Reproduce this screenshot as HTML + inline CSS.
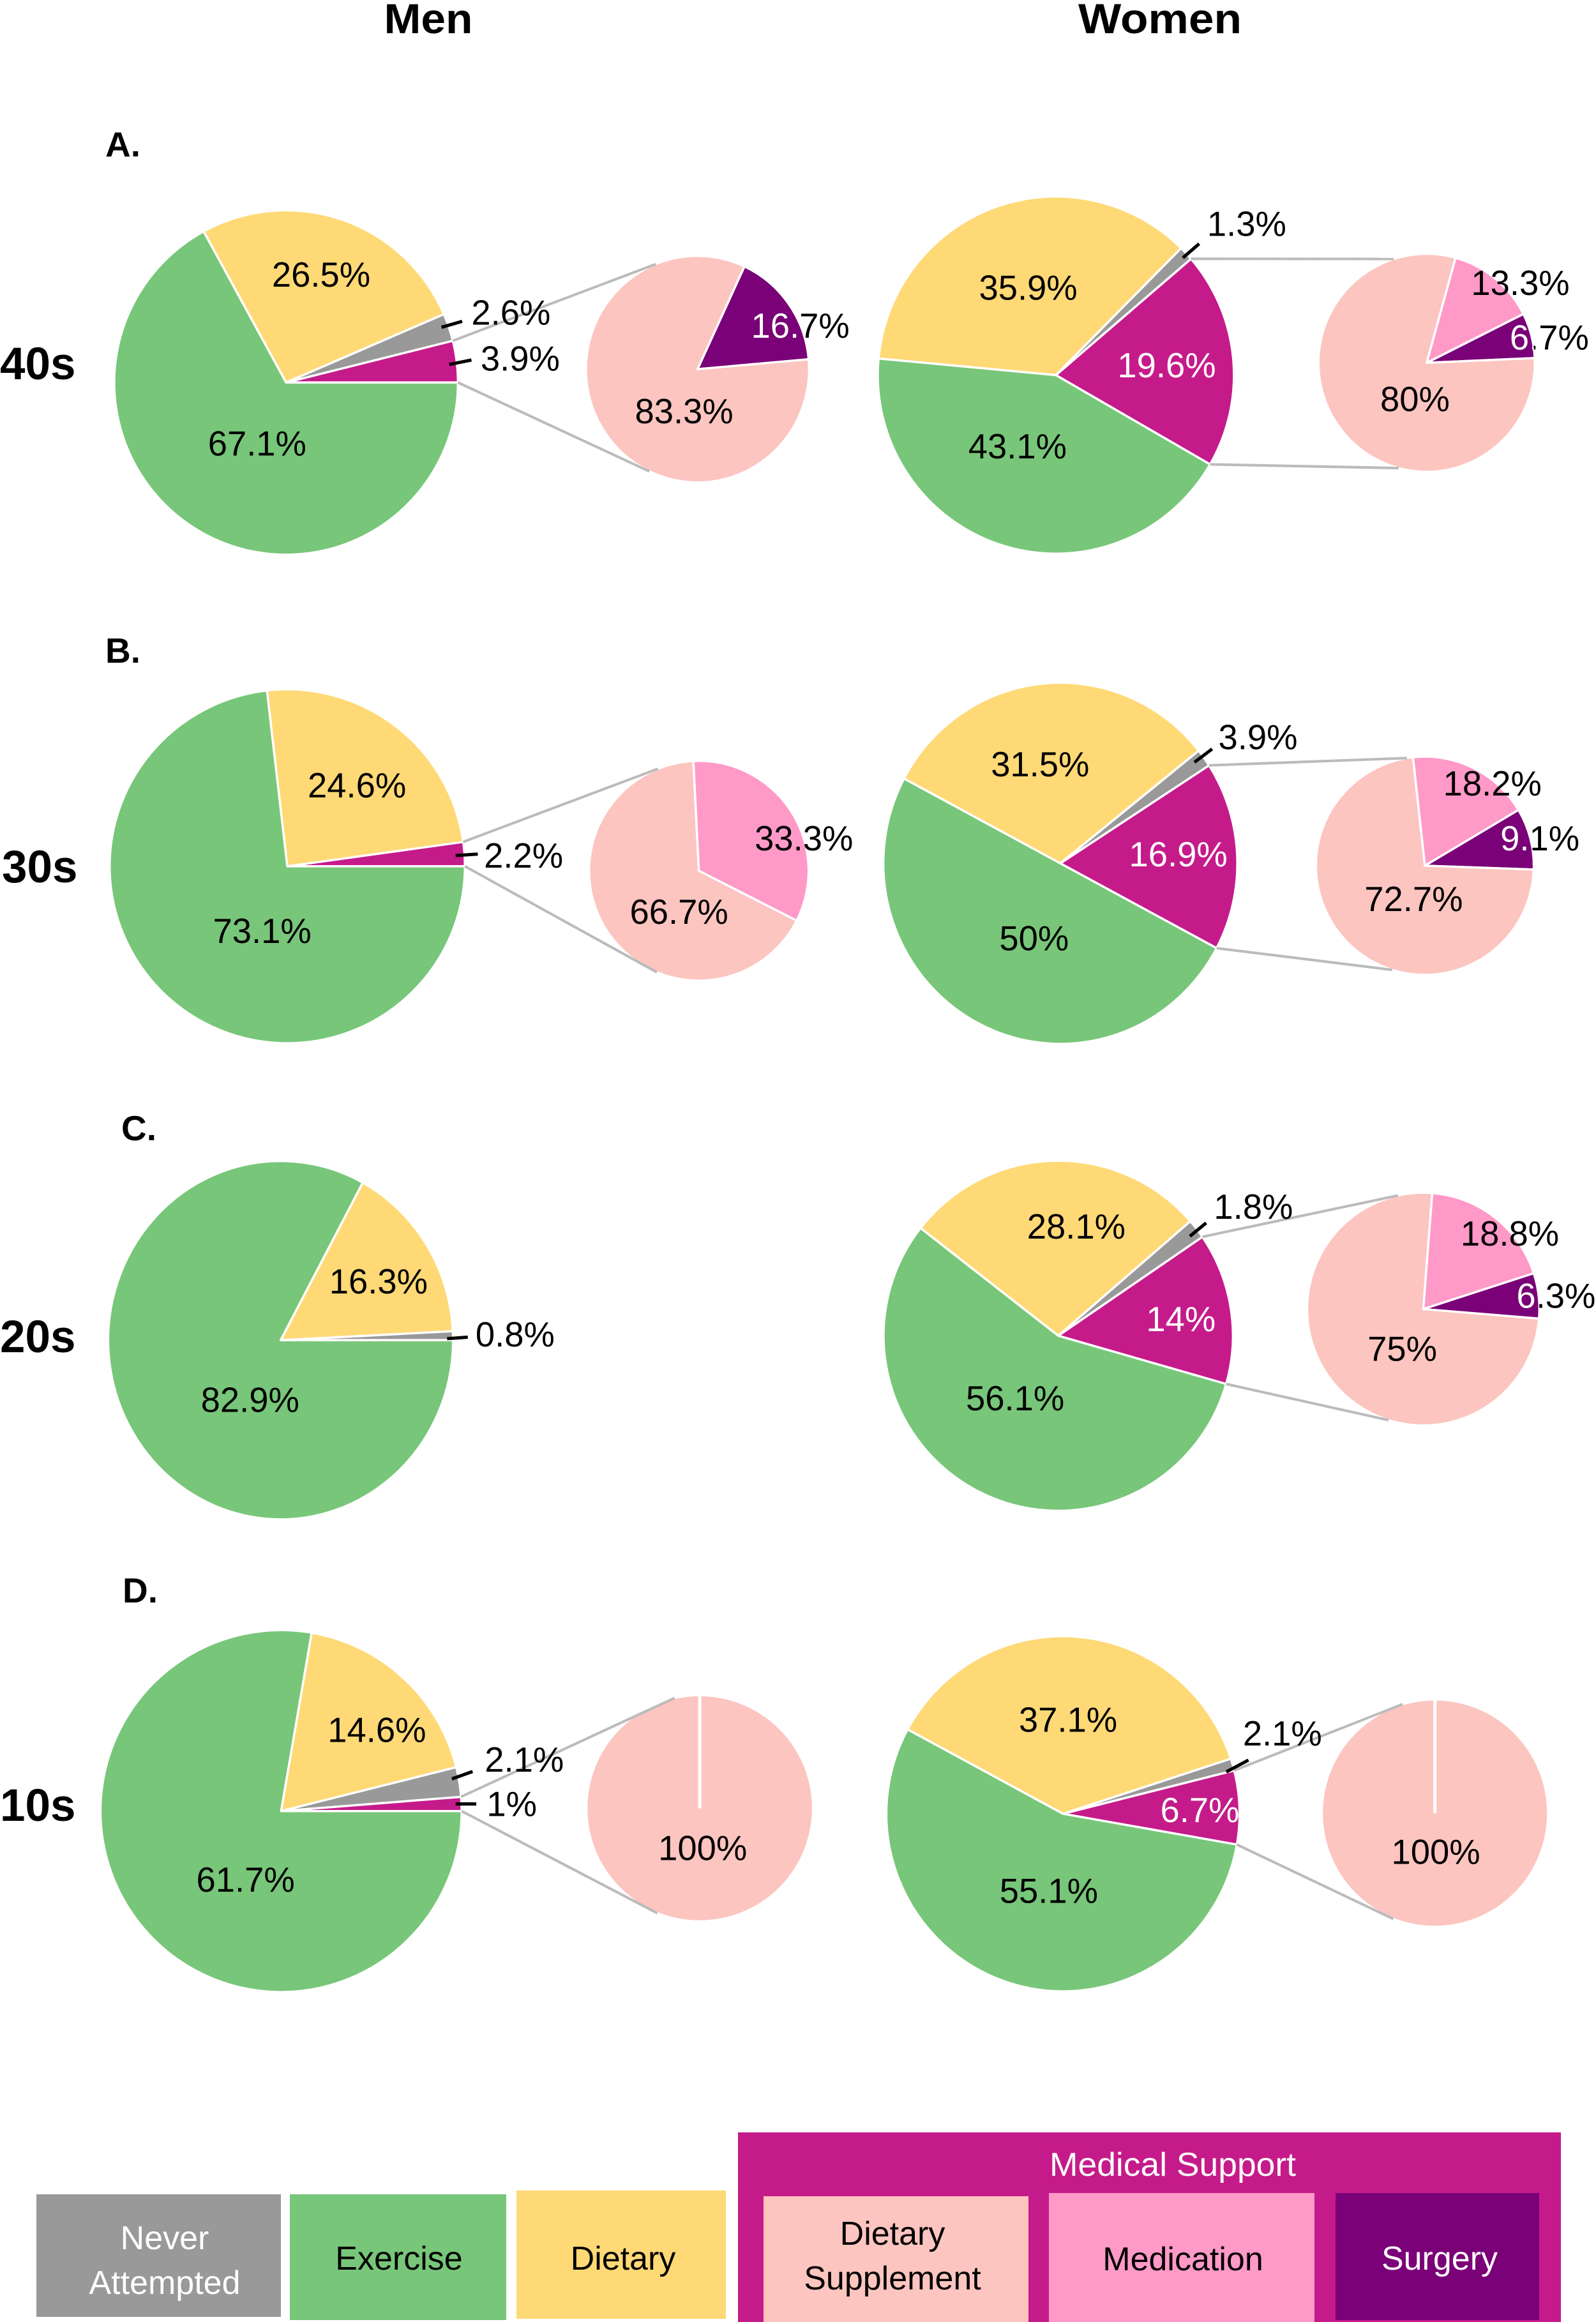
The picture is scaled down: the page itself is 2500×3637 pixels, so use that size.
<!DOCTYPE html>
<html lang="en">
<head>
<meta charset="utf-8">
<title>Weight control methods by age and sex</title>
<style>
html,body{margin:0;padding:0;background:#fff;}
svg{display:block;font-family:"Liberation Sans",sans-serif;}
</style>
</head>
<body>
<svg id="chart" xmlns="http://www.w3.org/2000/svg" width="2500" height="3637" viewBox="0 0 2500 3637">
  <rect x="0" y="0" width="2500" height="3637" fill="#fff"/>
  <text x="671" y="52" font-size="66" font-weight="700" text-anchor="middle" textLength="139" lengthAdjust="spacingAndGlyphs">Men</text>
  <text x="1817" y="52" font-size="66" font-weight="700" text-anchor="middle" textLength="256" lengthAdjust="spacingAndGlyphs">Women</text>
  <text x="165" y="245" font-size="55" font-weight="700">A.</text>
  <text x="165" y="1038" font-size="55" font-weight="700">B.</text>
  <text x="190" y="1786" font-size="55" font-weight="700">C.</text>
  <text x="192" y="2510" font-size="55" font-weight="700">D.</text>
  <text x="0" y="594" font-size="71" font-weight="700">40s</text>
  <text x="3" y="1382" font-size="71" font-weight="700">30s</text>
  <text x="0" y="2118" font-size="71" font-weight="700">20s</text>
  <text x="0" y="2852" font-size="71" font-weight="700">10s</text>
  <g id="plots" transform="scale(2.3148,2.3195)"></g>
  <g font-size="52" text-anchor="middle">
    <g>
      <rect x="57" y="3437" width="383" height="192" fill="#999999"/>
      <text x="258" y="3523" fill="#fff">Never</text>
      <text x="258" y="3593" fill="#fff">Attempted</text>
    </g>
    <g>
      <rect x="454" y="3437" width="339" height="197" fill="#78c679"/>
      <text x="625" y="3555">Exercise</text>
    </g>
    <g>
      <rect x="809" y="3431" width="328" height="201" fill="#fed976"/>
      <text x="976" y="3555">Dietary</text>
    </g>
    <g>
      <rect x="1156" y="3340" width="1289" height="297" fill="#c51b8a"/>
      <text x="1837" y="3408" fill="#fff" textLength="386" lengthAdjust="spacingAndGlyphs">Medical Support</text>
      <rect x="1196" y="3440" width="415" height="197" fill="#fcc5c0"/>
      <text x="1398" y="3516">Dietary</text>
      <text x="1398" y="3586">Supplement</text>
      <rect x="1643" y="3435" width="416" height="202" fill="#ff99c8"/>
      <text x="1853" y="3556">Medication</text>
      <rect x="2092" y="3435" width="319" height="199" fill="#7a0177"/>
      <text x="2255" y="3555" fill="#fff">Surgery</text>
    </g>
  </g>
</svg>
<script>
// Slice order, counter-clockwise from each pie's start angle
const mainSlices = ['medical-support', 'never-attempted', 'dietary', 'exercise'];
const supportSlices = ['surgery', 'medication', 'dietary-supplement'];

// Main pies: percent of respondents (drawn share is normalised to the sum)
const men40sValues = [3.9, 2.6, 26.5, 67.1];
const men30sValues = [2.2, 0, 24.6, 73.1];
const men20sValues = [0, 0.8, 16.3, 82.9];
const men10sValues = [1, 2.1, 14.6, 61.7];
const women40sValues = [19.6, 1.3, 35.9, 43.1];
const women30sValues = [16.9, 1.6, 31.5, 50];
const women20sValues = [14, 1.8, 28.1, 56.1];
const women10sValues = [6.7, 1.1, 37.1, 55.1];

// Printed values where the printed number differs from the drawn wedge
const women30sPrinted = [16.9, 3.9, 31.5, 50];
const women10sPrinted = [6.7, 2.1, 37.1, 55.1];

// Breakdown pies of medical support
const men40sSupport = [16.7, 0, 83.3];
const men30sSupport = [0, 33.3, 66.7];
const men10sSupport = [0, 0, 100];
const women40sSupport = [6.7, 13.3, 80];
const women30sSupport = [9.1, 18.2, 72.7];
const women20sSupport = [6.3, 18.8, 75];
const women10sSupport = [0, 0, 100];

const colors = {
  'medical-support': '#c51b8a', 'never-attempted': '#999999', 'dietary': '#fed976', 'exercise': '#78c679',
  'surgery': '#7a0177', 'medication': '#ff99c8', 'dietary-supplement': '#fcc5c0'
};
const whiteText = { 'medical-support': true, 'surgery': true };

// Layout only. Inside label nudge = [dx, dy, splitColourAtWedgeEdge?] from the 0.6r point on the mid-angle.
// Outside label = [textDx, textDy, leadX0, leadY0, leadX1, leadY1] from the wedge's outer-edge mid point.
const pies = [
  { id: 'men-40s', values: men40sValues, cx: 193.6, cy: 258.3, rx: 116.3, ry: 116.3, start: 0,
    labels: [[43, -2, -5, 2, 10, -1], [42, -10, -5, 0, 9, -4], [1, -7], [16, -19]],
    support: { values: men40sSupport, cx: 472, cy: 249.3, rx: 75.5, ry: 76.5, start: 5, top: 112, bottom: 244.4,
      labels: [[32.5, -3, true], null, [28, 2]] } },
  { id: 'women-40s', values: women40sValues, cx: 714.5, cy: 253.3, rx: 120.5, ry: 120.6, start: -30,
    labels: [[3, 0], [41, -20, -2.2, 3, 8.8, -6.5], [6, 9], [-4, -21]],
    support: { values: women40sSupport, cx: 965.4, cy: 245, rx: 73.2, ry: 73.6, start: 2.5, top: 107.7, bottom: 255,
      labels: [[40.5, -6, true], [35.5, -20], [26.5, -3]] } },
  { id: 'men-30s', values: men30sValues, cx: 194.4, cy: 585, rx: 120.2, ry: 119.5, start: 0,
    labels: [[40, 1, -6, 1, 9, 0], null, [3, 2], [31, -10]],
    support: { values: men30sSupport, cx: 472.9, cy: 588, rx: 74.3, ry: 74.2, start: -27, top: 111.9, bottom: 247.5,
      labels: [null, [33.7, 2.3], [24, 3.5]] } },
  { id: 'women-30s', values: women30sValues, printed: women30sPrinted, cx: 717.5, cy: 583, rx: 119.8, ry: 122, start: -28,
    labels: [[8, -3], [36.5, -14, -6.5, 3, 5.5, -6], [-7, 6], [16, -14]],
    support: { values: women30sSupport, cx: 964.2, cy: 584.6, rx: 73.7, ry: 73.7, start: -2, top: 99.5, bottom: 252.6,
      labels: [[35, -7.6, true], [26, -16], [22.5, -10]] } },
  { id: 'men-20s', values: men20sValues, cx: 189.9, cy: 905, rx: 116.7, ry: 121, start: 0,
    labels: [null, [42, -1, -4, 2, 10, 1], [7, -1], [39.5, 3]] },
  { id: 'women-20s', values: women20sValues, cx: 716.1, cy: 902, rx: 118.2, ry: 118.2, start: -16,
    labels: [[13, 0], [38.5, -15, -4.5, 5, 6.5, -4], [14, -3], [3, -21]],
    support: { values: women20sSupport, cx: 963.1, cy: 884, rx: 78.6, ry: 78.6, start: -4.7, top: 102.6, bottom: 252.6,
      labels: [[43, -3.6, true], [29.4, -14], [21.7, -3.8]] } },
  { id: 'men-10s', values: men10sValues, cx: 190.2, cy: 1223, rx: 122.2, ry: 122.2, start: 0,
    labels: [[34, 0, -4, 0, 10, 0], [44, -15, -5, -2, 9, -7], [15, -1], [32, -1]],
    support: { values: men10sSupport, cx: 473.5, cy: 1221.1, rx: 76.7, ry: 76.4, start: 90, top: 102.8, bottom: 248,
      labels: [null, null, [2, -19]] } },
  { id: 'women-10s', values: women10sValues, printed: women10sPrinted, cx: 719.3, cy: 1224.8, rx: 119.5, ry: 119.9, start: -10,
    labels: [[21, 0, true], [33.7, -21, -4.3, 5, 10.7, -3], [-3, 8], [14, -16]],
    support: { values: women10sSupport, cx: 971, cy: 1224.4, rx: 76.5, ry: 76.8, start: 90, top: 106.6, bottom: 248.4,
      labels: [null, null, [0.6, -20]] } }
];

const SVG_NS = 'http://www.w3.org/2000/svg';
const plots = document.getElementById('plots');
const wedgeLayer = document.createElementNS(SVG_NS, 'g');


const linkLayer = document.createElementNS(SVG_NS, 'g');


const labelLayer = document.createElementNS(SVG_NS, 'g');


plots.appendChild(wedgeLayer);
plots.appendChild(linkLayer);
plots.appendChild(labelLayer);

function make(tag, attrs) {
  const node = document.createElementNS(SVG_NS, tag);
  for (const key in attrs) node.setAttribute(key, attrs[key]);
  return node;
}
function polar(p, deg, f) {
  const a = deg * Math.PI / 180;
  return [p.cx + p.rx * f * Math.cos(a), p.cy - p.ry * f * Math.sin(a)];
}
function wedgePath(p, from, to) {
  const a = polar(p, from, 1);
  const span = to - from;
  if (span >= 359.99) {
    const m = polar(p, from + 180, 1);
    return 'M' + a[0] + ' ' + a[1] + 'A' + p.rx + ' ' + p.ry + ' 0 1 0 ' + m[0] + ' ' + m[1] +
      'A' + p.rx + ' ' + p.ry + ' 0 1 0 ' + a[0] + ' ' + a[1] + 'Z';
  }
  const b = polar(p, to, 1);
  return 'M' + p.cx + ' ' + p.cy + 'L' + a[0] + ' ' + a[1] +
    'A' + p.rx + ' ' + p.ry + ' 0 ' + (span > 180 ? 1 : 0) + ' 0 ' + b[0] + ' ' + b[1] + 'Z';
}
function addText(id, x, y, str, fill, clipId) {
  const t = make('text', { x: x, y: y + 8.2, 'font-size': 23.5, 'text-anchor': 'middle', fill: fill });
  if (clipId) t.setAttribute('clip-path', 'url(#' + clipId + ')');
  t.textContent = str;
  
  
  labelLayer.appendChild(t);
}
function drawPie(p, names, pid) {
  const vals = p.values;
  const shown = p.printed || vals;
  const total = vals.reduce(function (s, v) { return s + v; }, 0);
  const out = {};
  let angle = p.start;
  vals.forEach(function (v, i) {
    if (!v) return;
    const span = v / total * 360;
    const from = angle, to = angle + span, mid = angle + span / 2;
    angle = to;
    out[names[i]] = [from, to];
    const d = wedgePath(p, from, to);
    const wedge = make('path', { d: d, fill: colors[names[i]], stroke: '#fff', 'stroke-width': 1.5, 'stroke-linejoin': 'round' });
    
    
    wedgeLayer.appendChild(wedge);
    if (span >= 359.99) {
      const edge = polar(p, from, 1);
      const seam = make('line', { x1: p.cx, y1: p.cy, x2: edge[0], y2: edge[1], stroke: '#fff', 'stroke-width': 2.2 });
      
      
      wedgeLayer.appendChild(seam);
    }
    const off = p.labels[i] || [0, 0];
    const str = shown[i] + '%';
    const labelId = 'value-label-' + pid + '-' + names[i];
    if (off.length === 6) {
      const e = polar(p, mid, 1);
      const lead = make('line', { x1: e[0] + off[2], y1: e[1] + off[3], x2: e[0] + off[4], y2: e[1] + off[5], stroke: '#000', 'stroke-width': 2.2 });
      
      
      labelLayer.appendChild(lead);
      addText(labelId, e[0] + off[0], e[1] + off[1], str, '#000');
    } else {
      const c = polar(p, mid, 0.6);
      const x = c[0] + off[0], y = c[1] + off[1];
      if (off[2]) {
        const clipId = 'clip-' + pid + '-' + names[i];
        const clip = make('clipPath', { id: clipId });
        clip.appendChild(make('path', { d: d }));
        plots.appendChild(clip);
        addText(labelId, x, y, str, '#000');
        addText(labelId + '-inside', x, y, str, '#fff', clipId);
      } else {
        addText(labelId, x, y, str, whiteText[names[i]] ? '#fff' : '#000');
      }
    }
  });
  return out;
}
function addLink(id, a, b) {
  const l = make('line', { x1: a[0], y1: a[1], x2: b[0], y2: b[1], stroke: '#bbbbbb', 'stroke-width': 1.75 });
  
  
  linkLayer.appendChild(l);
}
pies.forEach(function (p) {
  const main = drawPie(p, mainSlices, p.id);
  if (!p.support) return;
  drawPie(p.support, supportSlices, p.id + '-support');
  const m = main['medical-support'];
  addLink('connector-top-' + p.id, polar(p, m[1], 1), polar(p.support, p.support.top, 1));
  addLink('connector-bottom-' + p.id, polar(p, m[0], 1), polar(p.support, p.support.bottom, 1));
});
</script>
</body>
</html>
